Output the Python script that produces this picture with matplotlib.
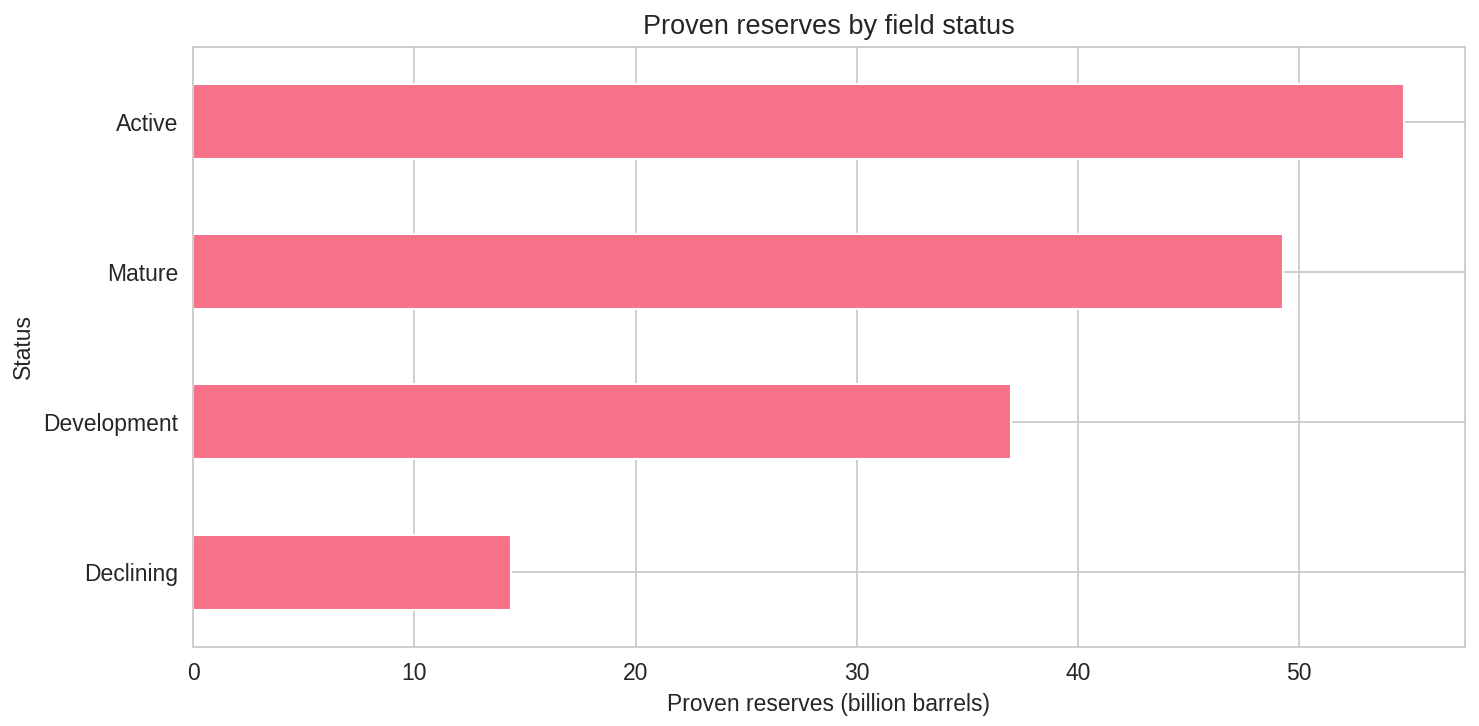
import matplotlib
matplotlib.use('Agg')
import matplotlib.pyplot as plt
import pandas as pd
import seaborn as sns

# Data
statuses = ['Declining', 'Development', 'Mature', 'Active']
reserves = [14.35, 36.97, 49.28, 54.75]

sns.set_theme(style='whitegrid')
plt.rcParams['font.family'] = ['Liberation Sans', 'DejaVu Sans']
plt.rcParams['axes.linewidth'] = 0.9
plt.rcParams['grid.linewidth'] = 0.9
color = sns.color_palette('husl', 8)[0]

df = pd.DataFrame({'Status': statuses, 'Reserves': reserves}).set_index('Status')

fig, ax = plt.subplots(figsize=(9.86, 4.84), dpi=150)
df['Reserves'].plot(kind='barh', ax=ax, color=color)

ax.set_title('Proven reserves by field status', fontsize=13)
ax.set_xlabel('Proven reserves (billion barrels)', fontsize=11)
ax.set_ylabel('Status', fontsize=11)
ax.tick_params(labelsize=11, length=0, pad=7)
fig.subplots_adjust(left=0.1305, right=0.9905, top=0.9353, bottom=0.1088)
plt.savefig('out.png')
